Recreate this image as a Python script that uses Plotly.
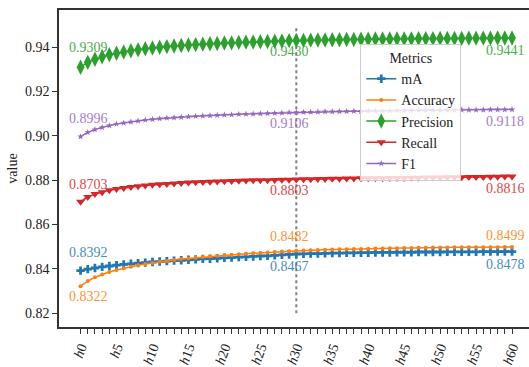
import plotly.graph_objects as go

# Horizons h0 .. h60
horizons = [f"h{i}" for i in range(61)]

mA = [
    0.8392, 0.8399, 0.8404, 0.8409, 0.8413, 0.8417, 0.8420, 0.8423, 0.8426, 0.8428,
    0.8431, 0.8433, 0.8435, 0.8437, 0.8439, 0.8441, 0.8443, 0.8445, 0.8446, 0.8448,
    0.8450, 0.8451, 0.8453, 0.8454, 0.8456, 0.8458, 0.8459, 0.8461, 0.8463, 0.8465,
    0.8467, 0.8468, 0.8469, 0.8469, 0.8470, 0.8471, 0.8471, 0.8472, 0.8472, 0.8473,
    0.8473, 0.8474, 0.8474, 0.8474, 0.8475, 0.8475, 0.8475, 0.8476, 0.8476, 0.8476,
    0.8476, 0.8477, 0.8477, 0.8477, 0.8477, 0.8477, 0.8478, 0.8478, 0.8478, 0.8478,
    0.8478,
]
accuracy = [
    0.8322, 0.8345, 0.8362, 0.8375, 0.8386, 0.8395, 0.8403, 0.8410, 0.8416, 0.8422,
    0.8427, 0.8432, 0.8436, 0.8440, 0.8444, 0.8447, 0.8450, 0.8453, 0.8456, 0.8459,
    0.8461, 0.8463, 0.8466, 0.8468, 0.8470, 0.8472, 0.8474, 0.8476, 0.8478, 0.8480,
    0.8482, 0.8483, 0.8484, 0.8485, 0.8486, 0.8487, 0.8488, 0.8489, 0.8490, 0.8490,
    0.8491, 0.8492, 0.8492, 0.8493, 0.8493, 0.8494, 0.8494, 0.8495, 0.8495, 0.8496,
    0.8496, 0.8496, 0.8497, 0.8497, 0.8497, 0.8498, 0.8498, 0.8498, 0.8498, 0.8499,
    0.8499,
]
precision = [
    0.9309, 0.9331, 0.9345, 0.9356, 0.9365, 0.9372, 0.9378, 0.9383, 0.9388, 0.9392,
    0.9396, 0.9399, 0.9402, 0.9405, 0.9407, 0.9409, 0.9411, 0.9413, 0.9415, 0.9416,
    0.9418, 0.9419, 0.9421, 0.9422, 0.9423, 0.9424, 0.9425, 0.9426, 0.9427, 0.9429,
    0.9430, 0.9430, 0.9431, 0.9432, 0.9432, 0.9433, 0.9433, 0.9434, 0.9434, 0.9435,
    0.9435, 0.9436, 0.9436, 0.9436, 0.9437, 0.9437, 0.9437, 0.9438, 0.9438, 0.9438,
    0.9439, 0.9439, 0.9439, 0.9439, 0.9440, 0.9440, 0.9440, 0.9440, 0.9441, 0.9441,
    0.9441,
]
recall = [
    0.8703, 0.8724, 0.8737, 0.8746, 0.8754, 0.8760, 0.8765, 0.8769, 0.8773, 0.8776,
    0.8779, 0.8781, 0.8783, 0.8785, 0.8787, 0.8789, 0.8790, 0.8792, 0.8793, 0.8794,
    0.8795, 0.8796, 0.8797, 0.8798, 0.8799, 0.8800, 0.8800, 0.8801, 0.8802, 0.8802,
    0.8803, 0.8804, 0.8804, 0.8805, 0.8805, 0.8806, 0.8806, 0.8807, 0.8807, 0.8808,
    0.8808, 0.8809, 0.8809, 0.8810, 0.8810, 0.8810, 0.8811, 0.8811, 0.8812, 0.8812,
    0.8812, 0.8813, 0.8813, 0.8813, 0.8814, 0.8814, 0.8814, 0.8815, 0.8815, 0.8816,
    0.8816,
]
f1 = [
    0.8996, 0.9015, 0.9028, 0.9038, 0.9046, 0.9053, 0.9058, 0.9063, 0.9067, 0.9071,
    0.9074, 0.9077, 0.9080, 0.9082, 0.9084, 0.9086, 0.9088, 0.9090, 0.9091, 0.9093,
    0.9094, 0.9095, 0.9097, 0.9098, 0.9099, 0.9100, 0.9101, 0.9102, 0.9103, 0.9105,
    0.9106, 0.9107, 0.9107, 0.9108, 0.9109, 0.9109, 0.9110, 0.9110, 0.9111, 0.9111,
    0.9112, 0.9112, 0.9113, 0.9113, 0.9114, 0.9114, 0.9114, 0.9115, 0.9115, 0.9115,
    0.9116, 0.9116, 0.9116, 0.9117, 0.9117, 0.9117, 0.9117, 0.9118, 0.9118, 0.9118,
    0.9118,
]

y_ticks = [0.82, 0.84, 0.86, 0.88, 0.90, 0.92, 0.94]
label_horizons = ["h0", "h30", "h60"]
marker_horizon = "h30"
marker_span = (0.82, 0.949)

FONT = "Liberation Serif"

# name, values, color, marker symbol, marker size, label offsets (px) at h0/h30/h60
series = [
    ("mA", mA, "#1f77b4", "cross", 7, (18, -12, -13)),
    ("Accuracy", accuracy, "#ff7f0e", "circle", 4, (-10, 14, 11)),
    ("Precision", precision, "#2ca02c", "diamond-tall", 11, (20, -11, -13)),
    ("Recall", recall, "#d62728", "triangle-down", 8, (17, -11, -12)),
    ("F1", f1, "#9467bd", "star", 5, (18, -11, -12)),
]

x = list(range(len(horizons)))
fig = go.Figure()

for name, vals, color, sym, size, _ in series:
    fig.add_trace(go.Scatter(
        x=x, y=vals, name=name, mode="lines+markers",
        line=dict(color=color, width=1.5),
        marker=dict(symbol=sym, size=size, color=color, line=dict(width=0)),
        cliponaxis=False,
    ))

# Value labels at the first, middle and last horizon
annotations = []
for name, vals, color, sym, size, shifts in series:
    for h, dy in zip(label_horizons, shifts):
        i = horizons.index(h)
        annotations.append(dict(
            x=i, y=vals[i], xref="x", yref="y",
            text=f"{vals[i]:.4f}", showarrow=False,
            xshift=7.5 if i == 0 else -7, yshift=dy,
            font=dict(family=FONT, size=14, color=color),
            opacity=0.85,
        ))

xm = horizons.index(marker_horizon)
fig.add_shape(
    type="line", xref="x", yref="y",
    x0=xm, x1=xm, y0=marker_span[0], y1=marker_span[1],
    line=dict(color="#808080", width=2, dash="dot"),
    layer="below",
)

fig.update_layout(
    width=529, height=367,
    margin=dict(l=58.5, r=0, t=10, b=35),
    paper_bgcolor="white", plot_bgcolor="white",
    font=dict(family=FONT, size=14, color="#222"),
    showlegend=True,
    legend=dict(
        title=dict(text="Metrics", side="top center", font=dict(family=FONT, size=14)),
        x=0.641, y=0.893, xanchor="left", yanchor="top",
        bgcolor="rgba(255,255,255,0.8)", bordercolor="#cccccc", borderwidth=1,
        font=dict(family=FONT, size=14, color="#222"),
        tracegroupgap=0,
    ),
    annotations=annotations,
)

fig.update_xaxes(
    range=[-3, 62.36],
    tickmode="array",
    tickvals=x,
    ticktext=[f"<i>h</i>{i}" if i % 5 == 0 else "" for i in x],
    tickangle=-70,
    ticks="outside", ticklen=5, tickwidth=1, tickcolor="#333",
    showline=True, linecolor="#333", linewidth=1.5, mirror=True,
    showgrid=False, zeroline=False,
    tickfont=dict(family=FONT, size=14, color="#222"),
)
fig.update_yaxes(
    range=[0.8138, 0.9567],
    tickmode="array", tickvals=y_ticks,
    ticktext=[f"{v:.2f}" for v in y_ticks],
    ticks="outside", ticklen=5, tickwidth=1, tickcolor="#333",
    showline=True, linecolor="#333", linewidth=1.5, mirror=False,
    showgrid=False, zeroline=False,
    title=dict(text="value", font=dict(family=FONT, size=14), standoff=4),
    tickfont=dict(family=FONT, size=14, color="#222"),
)

fig.write_html("out.html")
